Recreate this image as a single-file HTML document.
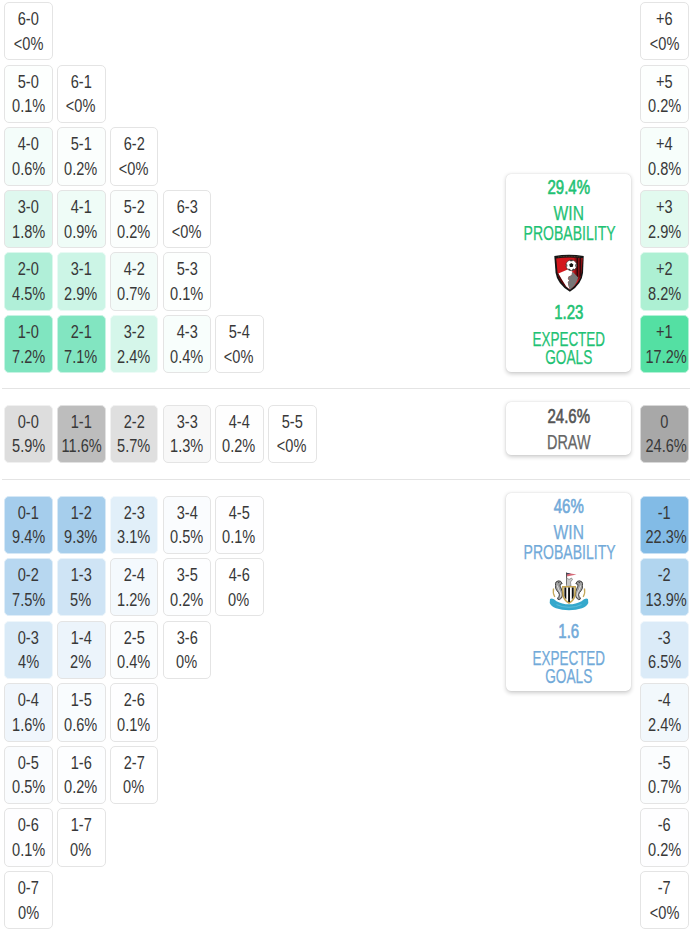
<!DOCTYPE html>
<html><head><meta charset="utf-8"><style>
html,body{margin:0;padding:0;background:#fff;}
body{width:690px;height:931px;position:relative;overflow:hidden;font-family:"Liberation Sans",sans-serif;}
.c{position:absolute;width:46.5px;height:56.3px;border:1px solid #e8e8e8;border-radius:5px;box-sizing:content-box;background-clip:padding-box;color:#383838;}
.c span{position:absolute;left:0;right:0;text-align:center;font-size:18px;line-height:20px;white-space:nowrap;transform:scaleX(0.81);}
.c span:first-child{top:6.1px;}
.c span:last-child{top:30.7px;left:-0.8px;}
.sep{position:absolute;left:2px;right:0;height:1px;background:#e4e4e4;}
.card{position:absolute;left:505.7px;width:125.5px;background:#fff;border-radius:5px;box-shadow:0 1.5px 4px rgba(0,0,0,0.2),0 0 1px rgba(0,0,0,0.16);}
.t{position:absolute;left:0;right:0;text-align:center;white-space:nowrap;}
.b{font-size:20px;line-height:20px;transform:scaleX(0.75);-webkit-text-stroke:0.65px currentColor;}
.r{font-size:19.5px;line-height:20px;transform:scaleX(0.72);-webkit-text-stroke:0.25px currentColor;}
</style></head><body>
<div class="c" style="left:4.30px;top:2.20px;background:#ffffff;border-color:#e4e4e4"><span>6-0</span><span>&lt;0%</span></div>
<div class="c" style="left:4.30px;top:64.75px;background:#fdfffe;border-color:#e4e4e4"><span>5-0</span><span>0.1%</span></div>
<div class="c" style="left:57.04px;top:64.75px;background:#ffffff;border-color:#e4e4e4"><span>6-1</span><span>&lt;0%</span></div>
<div class="c" style="left:4.30px;top:127.30px;background:#f4fdfa;border-color:#e4e4e4"><span>4-0</span><span>0.6%</span></div>
<div class="c" style="left:57.04px;top:127.30px;background:#fbfefd;border-color:#e4e4e4"><span>5-1</span><span>0.2%</span></div>
<div class="c" style="left:109.78px;top:127.30px;background:#ffffff;border-color:#e4e4e4"><span>6-2</span><span>&lt;0%</span></div>
<div class="c" style="left:4.30px;top:189.85px;background:#dff8ef;border-color:#e4e4e4"><span>3-0</span><span>1.8%</span></div>
<div class="c" style="left:57.04px;top:189.85px;background:#effcf7;border-color:#e4e4e4"><span>4-1</span><span>0.9%</span></div>
<div class="c" style="left:109.78px;top:189.85px;background:#fbfefd;border-color:#e4e4e4"><span>5-2</span><span>0.2%</span></div>
<div class="c" style="left:162.52px;top:189.85px;background:#ffffff;border-color:#e4e4e4"><span>6-3</span><span>&lt;0%</span></div>
<div class="c" style="left:4.30px;top:252.40px;background:#b0efd8;border-color:#dbf8ed"><span>2-0</span><span>4.5%</span></div>
<div class="c" style="left:57.04px;top:252.40px;background:#ccf5e6;border-color:#e8faf4"><span>3-1</span><span>2.9%</span></div>
<div class="c" style="left:109.78px;top:252.40px;background:#f3fcf9;border-color:#e4e4e4"><span>4-2</span><span>0.7%</span></div>
<div class="c" style="left:162.52px;top:252.40px;background:#fdfffe;border-color:#e4e4e4"><span>5-3</span><span>0.1%</span></div>
<div class="c" style="left:4.30px;top:314.95px;background:#80e5c0;border-color:#c6f3e3"><span>1-0</span><span>7.2%</span></div>
<div class="c" style="left:57.04px;top:314.95px;background:#82e5c1;border-color:#c7f3e3"><span>2-1</span><span>7.1%</span></div>
<div class="c" style="left:109.78px;top:314.95px;background:#d5f6ea;border-color:#ecfbf6"><span>3-2</span><span>2.4%</span></div>
<div class="c" style="left:162.52px;top:314.95px;background:#f8fefc;border-color:#e4e4e4"><span>4-3</span><span>0.4%</span></div>
<div class="c" style="left:215.26px;top:314.95px;background:#ffffff;border-color:#e4e4e4"><span>5-4</span><span>&lt;0%</span></div>
<div class="c" style="left:4.30px;top:404.60px;background:#dddddd;border-color:#f0f0f0"><span>0-0</span><span>5.9%</span></div>
<div class="c" style="left:57.04px;top:404.60px;background:#bdbdbd;border-color:#e1e1e1"><span>1-1</span><span>11.6%</span></div>
<div class="c" style="left:109.78px;top:404.60px;background:#dfdfdf;border-color:#f1f1f1"><span>2-2</span><span>5.7%</span></div>
<div class="c" style="left:162.52px;top:404.60px;background:#f8f8f8;border-color:#e4e4e4"><span>3-3</span><span>1.3%</span></div>
<div class="c" style="left:215.26px;top:404.60px;background:#fefefe;border-color:#e4e4e4"><span>4-4</span><span>0.2%</span></div>
<div class="c" style="left:268.00px;top:404.60px;background:#ffffff;border-color:#e4e4e4"><span>5-5</span><span>&lt;0%</span></div>
<div class="c" style="left:4.30px;top:495.60px;background:#a5cdec;border-color:#d6e8f6"><span>0-1</span><span>9.4%</span></div>
<div class="c" style="left:57.04px;top:495.60px;background:#a6ceec;border-color:#d7e9f6"><span>1-2</span><span>9.3%</span></div>
<div class="c" style="left:109.78px;top:495.60px;background:#e1eff9;border-color:#f2f8fc"><span>2-3</span><span>3.1%</span></div>
<div class="c" style="left:162.52px;top:495.60px;background:#fafcfe;border-color:#e4e4e4"><span>3-4</span><span>0.5%</span></div>
<div class="c" style="left:215.26px;top:495.60px;background:#fefeff;border-color:#e4e4e4"><span>4-5</span><span>0.1%</span></div>
<div class="c" style="left:4.30px;top:558.15px;background:#b7d7f0;border-color:#dfedf8"><span>0-2</span><span>7.5%</span></div>
<div class="c" style="left:57.04px;top:558.15px;background:#cfe4f5;border-color:#e9f3fa"><span>1-3</span><span>5%</span></div>
<div class="c" style="left:109.78px;top:558.15px;background:#f4f9fd;border-color:#e4e4e4"><span>2-4</span><span>1.2%</span></div>
<div class="c" style="left:162.52px;top:558.15px;background:#fdfeff;border-color:#e4e4e4"><span>3-5</span><span>0.2%</span></div>
<div class="c" style="left:215.26px;top:558.15px;background:#ffffff;border-color:#e4e4e4"><span>4-6</span><span>0%</span></div>
<div class="c" style="left:4.30px;top:620.70px;background:#d9eaf7;border-color:#eef6fb"><span>0-3</span><span>4%</span></div>
<div class="c" style="left:57.04px;top:620.70px;background:#ecf4fb;border-color:#e4e4e4"><span>1-4</span><span>2%</span></div>
<div class="c" style="left:109.78px;top:620.70px;background:#fbfdfe;border-color:#e4e4e4"><span>2-5</span><span>0.4%</span></div>
<div class="c" style="left:162.52px;top:620.70px;background:#ffffff;border-color:#e4e4e4"><span>3-6</span><span>0%</span></div>
<div class="c" style="left:4.30px;top:683.25px;background:#f0f6fc;border-color:#e4e4e4"><span>0-4</span><span>1.6%</span></div>
<div class="c" style="left:57.04px;top:683.25px;background:#f9fcfe;border-color:#e4e4e4"><span>1-5</span><span>0.6%</span></div>
<div class="c" style="left:109.78px;top:683.25px;background:#fefeff;border-color:#e4e4e4"><span>2-6</span><span>0.1%</span></div>
<div class="c" style="left:4.30px;top:745.80px;background:#fafcfe;border-color:#e4e4e4"><span>0-5</span><span>0.5%</span></div>
<div class="c" style="left:57.04px;top:745.80px;background:#fdfeff;border-color:#e4e4e4"><span>1-6</span><span>0.2%</span></div>
<div class="c" style="left:109.78px;top:745.80px;background:#ffffff;border-color:#e4e4e4"><span>2-7</span><span>0%</span></div>
<div class="c" style="left:4.30px;top:808.35px;background:#fefeff;border-color:#e4e4e4"><span>0-6</span><span>0.1%</span></div>
<div class="c" style="left:57.04px;top:808.35px;background:#ffffff;border-color:#e4e4e4"><span>1-7</span><span>0%</span></div>
<div class="c" style="left:4.30px;top:870.90px;background:#ffffff;border-color:#e4e4e4"><span>0-7</span><span>0%</span></div>
<div class="c" style="left:640.30px;top:2.20px;background:#ffffff;border-color:#e4e4e4"><span>+6</span><span>&lt;0%</span></div>
<div class="c" style="left:640.30px;top:64.75px;background:#fdfffe;border-color:#e4e4e4"><span>+5</span><span>0.2%</span></div>
<div class="c" style="left:640.30px;top:127.30px;background:#f7fefb;border-color:#e4e4e4"><span>+4</span><span>0.8%</span></div>
<div class="c" style="left:640.30px;top:189.85px;background:#e2faef;border-color:#e4e4e4"><span>+3</span><span>2.9%</span></div>
<div class="c" style="left:640.30px;top:252.40px;background:#adf0d3;border-color:#daf8eb"><span>+2</span><span>8.2%</span></div>
<div class="c" style="left:640.30px;top:314.95px;background:#54e0a3;border-color:#b2f1d6"><span>+1</span><span>17.2%</span></div>
<div class="c" style="left:640.30px;top:404.60px;background:#a8a8a8;border-color:#d8d8d8"><span>0</span><span>24.6%</span></div>
<div class="c" style="left:640.30px;top:495.60px;background:#82bbe6;border-color:#c7e0f4"><span>-1</span><span>22.3%</span></div>
<div class="c" style="left:640.30px;top:558.15px;background:#b1d5ef;border-color:#dcecf8"><span>-2</span><span>13.9%</span></div>
<div class="c" style="left:640.30px;top:620.70px;background:#dbebf8;border-color:#eff6fc"><span>-3</span><span>6.5%</span></div>
<div class="c" style="left:640.30px;top:683.25px;background:#f2f8fc;border-color:#e4e4e4"><span>-4</span><span>2.4%</span></div>
<div class="c" style="left:640.30px;top:745.80px;background:#fbfdfe;border-color:#e4e4e4"><span>-5</span><span>0.7%</span></div>
<div class="c" style="left:640.30px;top:808.35px;background:#fefeff;border-color:#e4e4e4"><span>-6</span><span>0.2%</span></div>
<div class="c" style="left:640.30px;top:870.90px;background:#ffffff;border-color:#e4e4e4"><span>-7</span><span>&lt;0%</span></div>

<div class="sep" style="top:388px"></div>
<div class="sep" style="top:479px"></div>
<div class="card" style="top:173.5px;height:198.3px">
 <div class="t b" style="top:3.3px;color:#1fc274">29.4%</div>
 <div class="t r" style="top:29px;color:#1fc274;transform:scaleX(0.8)">WIN</div>
 <div class="t r" style="top:49px;color:#1fc274">PROBABILITY</div>
 <div style="position:absolute;left:46.3px;top:78.5px"><svg width="34" height="42" viewBox="0 0 34 42" style="display:block">
<path d="M2.3,4 Q17,1.6 31.7,4 L31,21 Q30,32 17.9,39.8 Q5.2,32 3.6,21 Z" fill="#141414"/>
<path d="M4.2,6.4 Q17,4.6 29.8,6.4 L29.2,21 Q28.3,30.5 17.9,37.6 Q7.2,30.5 5.6,21 Z" fill="#d3171d"/>
<path d="M22.5,6 L31,6 L29.2,21 Q28.8,25 27,28 L22.5,24 Z" fill="#8a1015"/>
<path d="M24.6,5.6 h1.3 V27 l-1.3,1.2 Z M27.6,5.8 h1.3 V23.5 l-1.3,2.2 Z" fill="#2a0608"/>
<path d="M6,5 Q17,3.6 28,5" stroke="#6e6040" stroke-width="0.7" fill="none" stroke-dasharray="1,0.6"/>
<path d="M5.6,20.6 L6.9,21.7 L9.9,27.6 L14.3,34.5 L17.9,37.6 Q7.2,30.5 5.6,21 Z" fill="#4a0609"/>
<path d="M6.4,21.5 L16.3,17.2 L20.4,19.6 L19.7,23.2 L16.8,24.6 L15.8,26.6 L17.2,28.6 L15.8,30.6 L16.8,34.5 L17.9,37.6 L14.3,34.5 L9.9,27.6 Z" fill="#ffffff"/>
<path d="M19.7,21.5 L20.6,19.8 L26.2,25.6 L25.6,27.6 Q24,33 18.4,37.6 L18.2,37.8 L16.8,34.5 L15.8,30.6 L17.2,28.6 L15.8,26.6 L16.8,24.6 L19.7,23.2 Z" fill="#777777"/>
<circle cx="19.3" cy="13.3" r="5.4" fill="#ffffff" stroke="#2a2a2a" stroke-width="0.6"/>
<path d="M19.3,11.1 L21.4,12.6 L20.6,15.1 L18,15.1 L17.2,12.6 Z" fill="#111"/>
<path d="M17.6,8.2 Q19.3,7.6 21,8.2 L20.4,9.2 L18.2,9.2 Z M24.1,11.8 Q24.7,13.5 24,15 L23.2,14.3 L23.4,12.4 Z M14.5,11.8 Q13.9,13.5 14.6,15 L15.4,14.3 L15.2,12.4 Z M16,17.3 Q17.3,18.4 18.6,18.7 L18.4,17.6 L16.9,16.6 Z M22.6,17.3 Q21.3,18.4 20,18.7 L20.2,17.6 L21.7,16.6 Z" fill="#333"/>
</svg></div>
 <div class="t b" style="top:128.5px;color:#1fc274">1.23</div>
 <div class="t r" style="top:155px;color:#1fc274;transform:scaleX(0.69)">EXPECTED</div>
 <div class="t r" style="top:173px;color:#1fc274;transform:scaleX(0.7)">GOALS</div>
</div>
<div class="card" style="top:402px;height:53px">
 <div class="t b" style="top:4px;color:#555">24.6%</div>
 <div class="t r" style="top:30px;color:#666;transform:scaleX(0.74)">DRAW</div>
</div>
<div class="card" style="top:493px;height:197.5px">
 <div class="t b" style="top:2.7px;color:#72aad9">46%</div>
 <div class="t r" style="top:28.5px;color:#72aad9;transform:scaleX(0.8)">WIN</div>
 <div class="t r" style="top:48.5px;color:#72aad9">PROBABILITY</div>
 <div style="position:absolute;left:41.3px;top:77px"><svg width="44" height="42" viewBox="0 0 44 42" style="display:block">
<path d="M19.2,2.8 L29.5,4.6 L19.8,6.6 Z" fill="#d66a78"/>
<path d="M19.2,2.8 L24,3.6 L19.5,4.6 Z" fill="#3d4660"/>
<rect x="19" y="2.6" width="0.9" height="12" fill="#4a4a4a"/>
<path d="M19.5,7.5 L22,9.5 L24.5,8 L25.5,9.5 L23.5,12 L24,16 L19.5,16.5 Z" fill="#c8c8c8" stroke="#555" stroke-width="0.5"/>
<path d="M9,12 Q11,10.2 13.5,11.2 L15.2,13.6 L13.2,14.4 Q12.6,16 14,18 Q16,21.5 15.6,25 Q15.2,28.5 12.5,29.6 Q10.3,29.9 10.6,27.8 Q12.7,27 12.3,24.5 Q11.8,22.5 9.8,20.5 Q8,18.5 8.6,15.5 Q8.1,13.5 9,12 Z" fill="#a0a0a0" stroke="#1e1e1e" stroke-width="0.8"/><path d="M10.3,15.5 Q11.2,19.5 13.4,22.5 Q14.2,25 13.6,27.2" stroke="#f4f4f4" stroke-width="0.8" fill="none"/><circle cx="11.8" cy="12.6" r="0.6" fill="#222"/>
<g transform="translate(44,0) scale(-1,1)"><path d="M9,12 Q11,10.2 13.5,11.2 L15.2,13.6 L13.2,14.4 Q12.6,16 14,18 Q16,21.5 15.6,25 Q15.2,28.5 12.5,29.6 Q10.3,29.9 10.6,27.8 Q12.7,27 12.3,24.5 Q11.8,22.5 9.8,20.5 Q8,18.5 8.6,15.5 Q8.1,13.5 9,12 Z" fill="#a0a0a0" stroke="#1e1e1e" stroke-width="0.8"/><path d="M10.3,15.5 Q11.2,19.5 13.4,22.5 Q14.2,25 13.6,27.2" stroke="#f4f4f4" stroke-width="0.8" fill="none"/><circle cx="11.8" cy="12.6" r="0.6" fill="#222"/></g>
<path d="M6.6,18.5 Q5.5,22.5 7.8,27" stroke="#c4a85a" stroke-width="1.3" fill="none"/>
<path d="M37.4,18.5 Q38.5,22.5 36.2,27" stroke="#c4a85a" stroke-width="1.3" fill="none"/>
<path d="M15,16 L29,16 L28.6,26 Q27,31.5 22,34 Q17,31.5 15.4,26 Z" fill="#c4a550"/>
<path d="M16.6,17.6 L27.4,17.6 L27,26 Q25.7,30.2 22,32.3 Q18.3,30.2 17,26 Z" fill="#ffffff"/>
<path d="M17.4,17.6 h1.9 V29.5 Q18,28 17.4,26 Z M21.1,17.6 h1.9 V32 L22,32.3 L21.1,31.8 Z M24.8,17.6 h1.9 V26 Q26.2,28 24.8,29.6 Z" fill="#111"/>
<path d="M3,29 Q6,27.6 9.5,31.2 Q15,34.3 22,34.3 Q29,34.3 34.5,31.2 Q38,27.6 41,29 L41.3,33 Q40,36.3 35,38.3 Q29,40.2 22,40.2 Q15,40.2 9,38.3 Q4,36.3 2.7,33 Z" fill="#34a8cc"/>
<path d="M9.5,34.6 Q15,37.3 22,37.3 Q29,37.3 34.5,34.6" stroke="#7cc9e0" stroke-width="0.6" fill="none"/>
</svg></div>
 <div class="t b" style="top:127.7px;color:#72aad9">1.6</div>
 <div class="t r" style="top:154.5px;color:#72aad9;transform:scaleX(0.69)">EXPECTED</div>
 <div class="t r" style="top:172.5px;color:#72aad9;transform:scaleX(0.7)">GOALS</div>
</div>
</body></html>
